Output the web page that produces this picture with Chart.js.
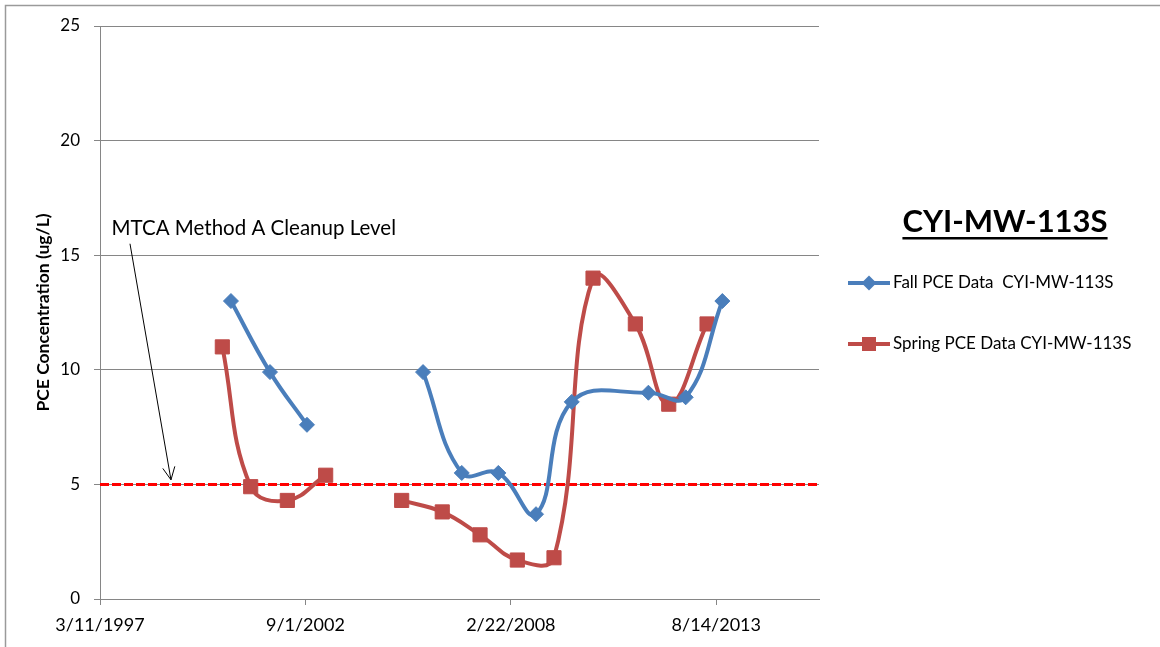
<!DOCTYPE html>
<html>
<head>
<meta charset="utf-8">
<script src="https://cdn.jsdelivr.net/npm/chart.js@4/dist/chart.umd.min.js"></script>
<style>
  html, body { margin: 0; padding: 0; background: #fff; }
  #wrap { width: 1160px; height: 647px; }
</style>
</head>
<body>
<div id="wrap"><canvas id="pceChart" width="1160" height="647"></canvas></div>
<script>
// sample dates (M/D/YYYY) and PCE results in ug/L, null = missed event (breaks the line)
var fallDates = ['9/6/2000', '9/21/2001', '9/16/2002', '10/1/2003', '10/20/2005', '11/1/2006',
                 '10/23/2007', '10/24/2008', '10/7/2009', '10/23/2011', '10/20/2012', '10/12/2013'];
var fallValues = [13, 9.9, 7.6, null, 9.9, 5.5, 5.5, 3.7, 8.6, 9.0, 8.8, 13];

var springDates = ['6/14/2000', '3/17/2001', '3/9/2002', '3/17/2003', '4/1/2004', '3/26/2005', '4/25/2006',
                   '4/28/2007', '4/25/2008', '4/17/2009', '5/2/2010', '6/18/2011', '5/8/2012', '5/16/2013'];
var springValues = [11, 4.9, 4.3, 5.4, null, 4.3, 3.8, 2.8, 1.7, 1.8, 14, 12, 8.5, 12];

var cleanupLevel = 5;
var xTickDates = ['3/11/1997', '9/1/2002', '2/22/2008', '8/14/2013'];
var xAxisStart = '3/11/1997';
var xAxisEnd = '5/10/2016';
var yTicks = [0, 5, 10, 15, 20, 25];

var wellName = 'CYI-MW-113S';
var cleanupLabel = 'MTCA Method A Cleanup Level';
var labelAt = ['7/1/1997', 15.9];
var arrowFrom = ['12/28/1997', 15.5];
var arrowTo = ['1/31/1999', 5.2];

// excel style day serial
function serial(s) {
    var p = s.split('/');
    return Date.UTC(+p[2], +p[0] - 1, +p[1]) / 86400000 + 25569;
}
function fmtDate(n) {
    var d = new Date((n - 25569) * 86400000);
    return (d.getUTCMonth() + 1) + '/' + d.getUTCDate() + '/' + d.getUTCFullYear();
}
function points(dates, vals) {
    return dates.map(function (d, i) { return { x: serial(d), y: vals[i] }; });
}

var FONT = 'Lato, "Open Sans", sans-serif';
var BLUE = '#4A7EBB';
var RED = '#BE4B48';
var AXIS = '#868686';

var framePlugin = {
    id: 'frame',
    beforeDraw: function (chart) {
        var ctx = chart.ctx;
        ctx.save();
        ctx.fillStyle = '#fff';
        ctx.fillRect(0, 0, chart.width, chart.height);
        ctx.strokeStyle = '#9a9a9a';
        ctx.lineWidth = 1.5;
        ctx.strokeRect(5.5, 5.5, chart.width + 20, chart.height + 20);
        ctx.restore();
    }
};

var notesPlugin = {
    id: 'notes',
    afterDraw: function (chart) {
        var ctx = chart.ctx;
        var xs = chart.scales.x, ys = chart.scales.y;
        ctx.save();

        // cleanup level label + arrow
        ctx.fillStyle = '#000';
        ctx.font = '20.5px ' + FONT;
        ctx.textBaseline = 'alphabetic';
        ctx.textAlign = 'left';
        ctx.fillText(cleanupLabel, xs.getPixelForValue(serial(labelAt[0])), ys.getPixelForValue(labelAt[1]));
        var x1 = xs.getPixelForValue(serial(arrowFrom[0])), y1 = ys.getPixelForValue(arrowFrom[1]);
        var x2 = xs.getPixelForValue(serial(arrowTo[0])), y2 = ys.getPixelForValue(arrowTo[1]);
        var ang = Math.atan2(y2 - y1, x2 - x1);
        ctx.strokeStyle = '#000';
        ctx.lineWidth = 1;
        ctx.beginPath();
        ctx.moveTo(x1, y1);
        ctx.lineTo(x2, y2);
        ctx.moveTo(x2 - 14 * Math.cos(ang - 0.45), y2 - 14 * Math.sin(ang - 0.45));
        ctx.lineTo(x2, y2);
        ctx.lineTo(x2 - 14 * Math.cos(ang + 0.45), y2 - 14 * Math.sin(ang + 0.45));
        ctx.stroke();

        // legend block on the right
        ctx.font = 'bold 31px ' + FONT;
        ctx.textAlign = 'center';
        ctx.fillText(wellName, 1005, 232);
        var tw = ctx.measureText(wellName).width;
        ctx.fillRect(1005 - tw / 2, 237, tw, 2.5);

        ctx.font = '17px ' + FONT;
        ctx.textAlign = 'left';
        ctx.textBaseline = 'middle';
        var rows = [283, 344];
        chart.data.datasets.slice(0, 2).forEach(function (ds, i) {
            var y = rows[i];
            ctx.strokeStyle = ds.borderColor;
            ctx.lineWidth = 4;
            ctx.beginPath();
            ctx.moveTo(848, y);
            ctx.lineTo(890, y);
            ctx.stroke();
            ctx.fillStyle = ds.borderColor;
            if (ds.pointStyle === 'rect') {
                ctx.fillRect(862, y - 7, 14, 14);
            } else {
                ctx.beginPath();
                ctx.moveTo(869, y - 7.5);
                ctx.lineTo(876.5, y);
                ctx.lineTo(869, y + 7.5);
                ctx.lineTo(861.5, y);
                ctx.closePath();
                ctx.fill();
            }
            ctx.fillStyle = '#000';
            ctx.fillText(ds.label, 893, y);
        });
        ctx.restore();
    }
};

var ctx = document.getElementById('pceChart').getContext('2d');
var pceChart = new Chart(ctx, {
    type: 'line',
    data: {
        datasets: [{
            label: 'Fall PCE Data  CYI-MW-113S',
            data: points(fallDates, fallValues),
            borderColor: BLUE,
            backgroundColor: BLUE,
            borderWidth: 4,
            pointStyle: 'rectRot',
            pointRadius: 7.5,
            pointBorderWidth: 1,
            tension: 0.42,
            spanGaps: false
        }, {
            label: 'Spring PCE Data CYI-MW-113S',
            data: points(springDates, springValues),
            borderColor: RED,
            backgroundColor: RED,
            borderWidth: 4,
            pointStyle: 'rect',
            pointRadius: 10,
            pointBorderWidth: 1,
            tension: 0.42,
            spanGaps: false
        }, {
            label: 'Cleanup level',
            data: [{ x: serial(xAxisStart), y: cleanupLevel }, { x: serial(xAxisEnd), y: cleanupLevel }],
            borderColor: '#FF0000',
            borderWidth: 3,
            borderDash: [9, 3],
            pointRadius: 0,
            tension: 0
        }]
    },
    options: {
        responsive: false,
        animation: false,
        layout: { padding: { left: 30, right: 341, top: 26, bottom: 0 } },
        plugins: {
            legend: { display: false },
            tooltip: { enabled: false }
        },
        scales: {
            x: {
                type: 'linear',
                min: serial(xAxisStart),
                max: serial(xAxisEnd),
                afterBuildTicks: function (scale) {
                    scale.ticks = xTickDates.map(function (d) { return { value: serial(d) }; });
                },
                afterFit: function (scale) { scale.height = 48; },
                ticks: {
                    callback: function (v) { return fmtDate(v); },
                    color: '#000',
                    font: { family: FONT, size: 18 },
                    padding: 9,
                    maxRotation: 0,
                    autoSkip: false
                },
                grid: { drawOnChartArea: false, color: AXIS, tickLength: 6 },
                border: { color: AXIS, width: 1 }
            },
            y: {
                min: 0,
                max: 25,
                afterBuildTicks: function (scale) {
                    scale.ticks = yTicks.map(function (v) { return { value: v }; });
                },
                afterFit: function (scale) { scale.width = 70; },
                ticks: {
                    color: '#000',
                    font: { family: FONT, size: 17 },
                    padding: 14
                },
                grid: { color: AXIS, tickLength: 6 },
                border: { color: AXIS, width: 1 },
                title: {
                    display: true,
                    text: 'PCE Concentration (ug/L)',
                    color: '#000',
                    font: { family: FONT, size: 17.5, weight: 'bold' },
                    padding: { top: 3, bottom: 4 }
                }
            }
        }
    },
    plugins: [framePlugin, notesPlugin]
});
</script>
</body>
</html>
